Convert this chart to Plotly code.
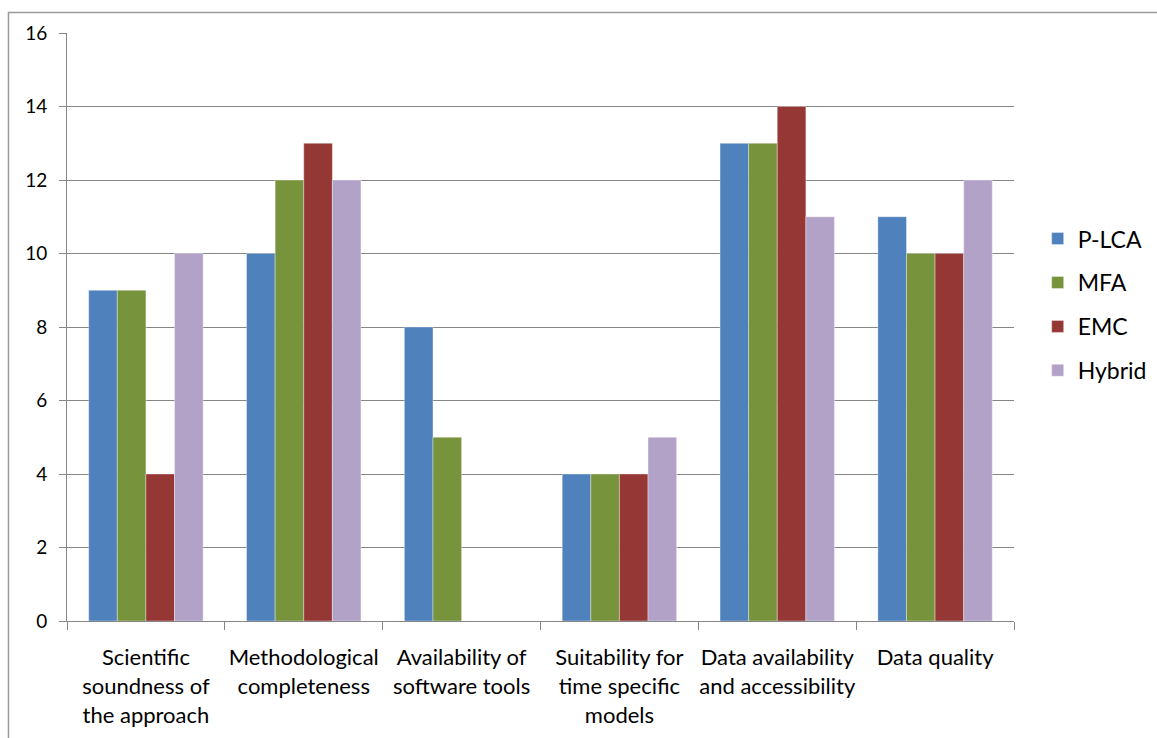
import plotly.graph_objects as go

categories = [
    "Scientific<br>soundness of<br>the approach",
    "Methodological<br>completeness",
    "Availability of<br>software tools",
    "Suitability for<br>time specific<br>models",
    "Data availability<br>and accessibility",
    "Data quality",
]
series_names = ["P-LCA", "MFA", "EMC", "Hybrid"]
p_lca = [9, 10, 8, 4, 13, 11]
mfa = [9, 12, 5, 4, 13, 10]
emc = [4, 13, 0, 4, 14, 10]
hybrid = [10, 12, 0, 5, 11, 12]
y_ticks = [0, 2, 4, 6, 8, 10, 12, 14, 16]

colors = ["#4F81BD", "#77933C", "#953735", "#B3A2C7"]
values = [p_lca, mfa, emc, hybrid]

fig = go.Figure()
for name, vals, col in zip(series_names, values, colors):
    fig.add_trace(go.Bar(
        x=categories, y=vals, name=name, legendgroup=name,
        marker=dict(color=col, line=dict(color="rgba(255,255,255,0.6)", width=0.6)),
    ))

fig.update_layout(
    width=1157, height=738,
    margin=dict(l=67, r=143, t=33, b=117, autoexpand=False),
    paper_bgcolor="white", plot_bgcolor="white",
    barmode="group", bargap=0.275, bargroupgap=0,
    font=dict(family="Lato, Calibri, sans-serif", color="#000000"),
    showlegend=True,
    legend=dict(
        x=1.025, xanchor="left", y=0.538, yanchor="middle",
        font=dict(size=23, color="#000000"),
        tracegroupgap=11, itemwidth=30,
        bgcolor="rgba(0,0,0,0)",
    ),
    xaxis=dict(
        tickson="boundaries", ticks="outside", ticklen=8, tickcolor="#868686",
        showline=True, linecolor="#868686", linewidth=1,
        tickfont=dict(size=22, color="#000000"), ticklabelstandoff=17,
        tickangle=0, showgrid=False,
    ),
    yaxis=dict(
        range=[0, 16], tickvals=y_ticks, ticks="outside", ticklen=7,
        tickcolor="#868686", showline=True, linecolor="#868686", linewidth=1,
        showgrid=True, gridcolor="#868686", gridwidth=1,
        tickfont=dict(size=19, color="#000000"), ticklabelstandoff=8,
        zeroline=False,
    ),
    shapes=[dict(
        type="rect", xref="paper", yref="paper",
        x0=-0.0618, y0=-0.4, x1=1.3, y1=1.0349,
        line=dict(color="#9A9A9A", width=1.5), fillcolor="rgba(0,0,0,0)",
        layer="below",
    )],
)

fig.write_html("out.html")
